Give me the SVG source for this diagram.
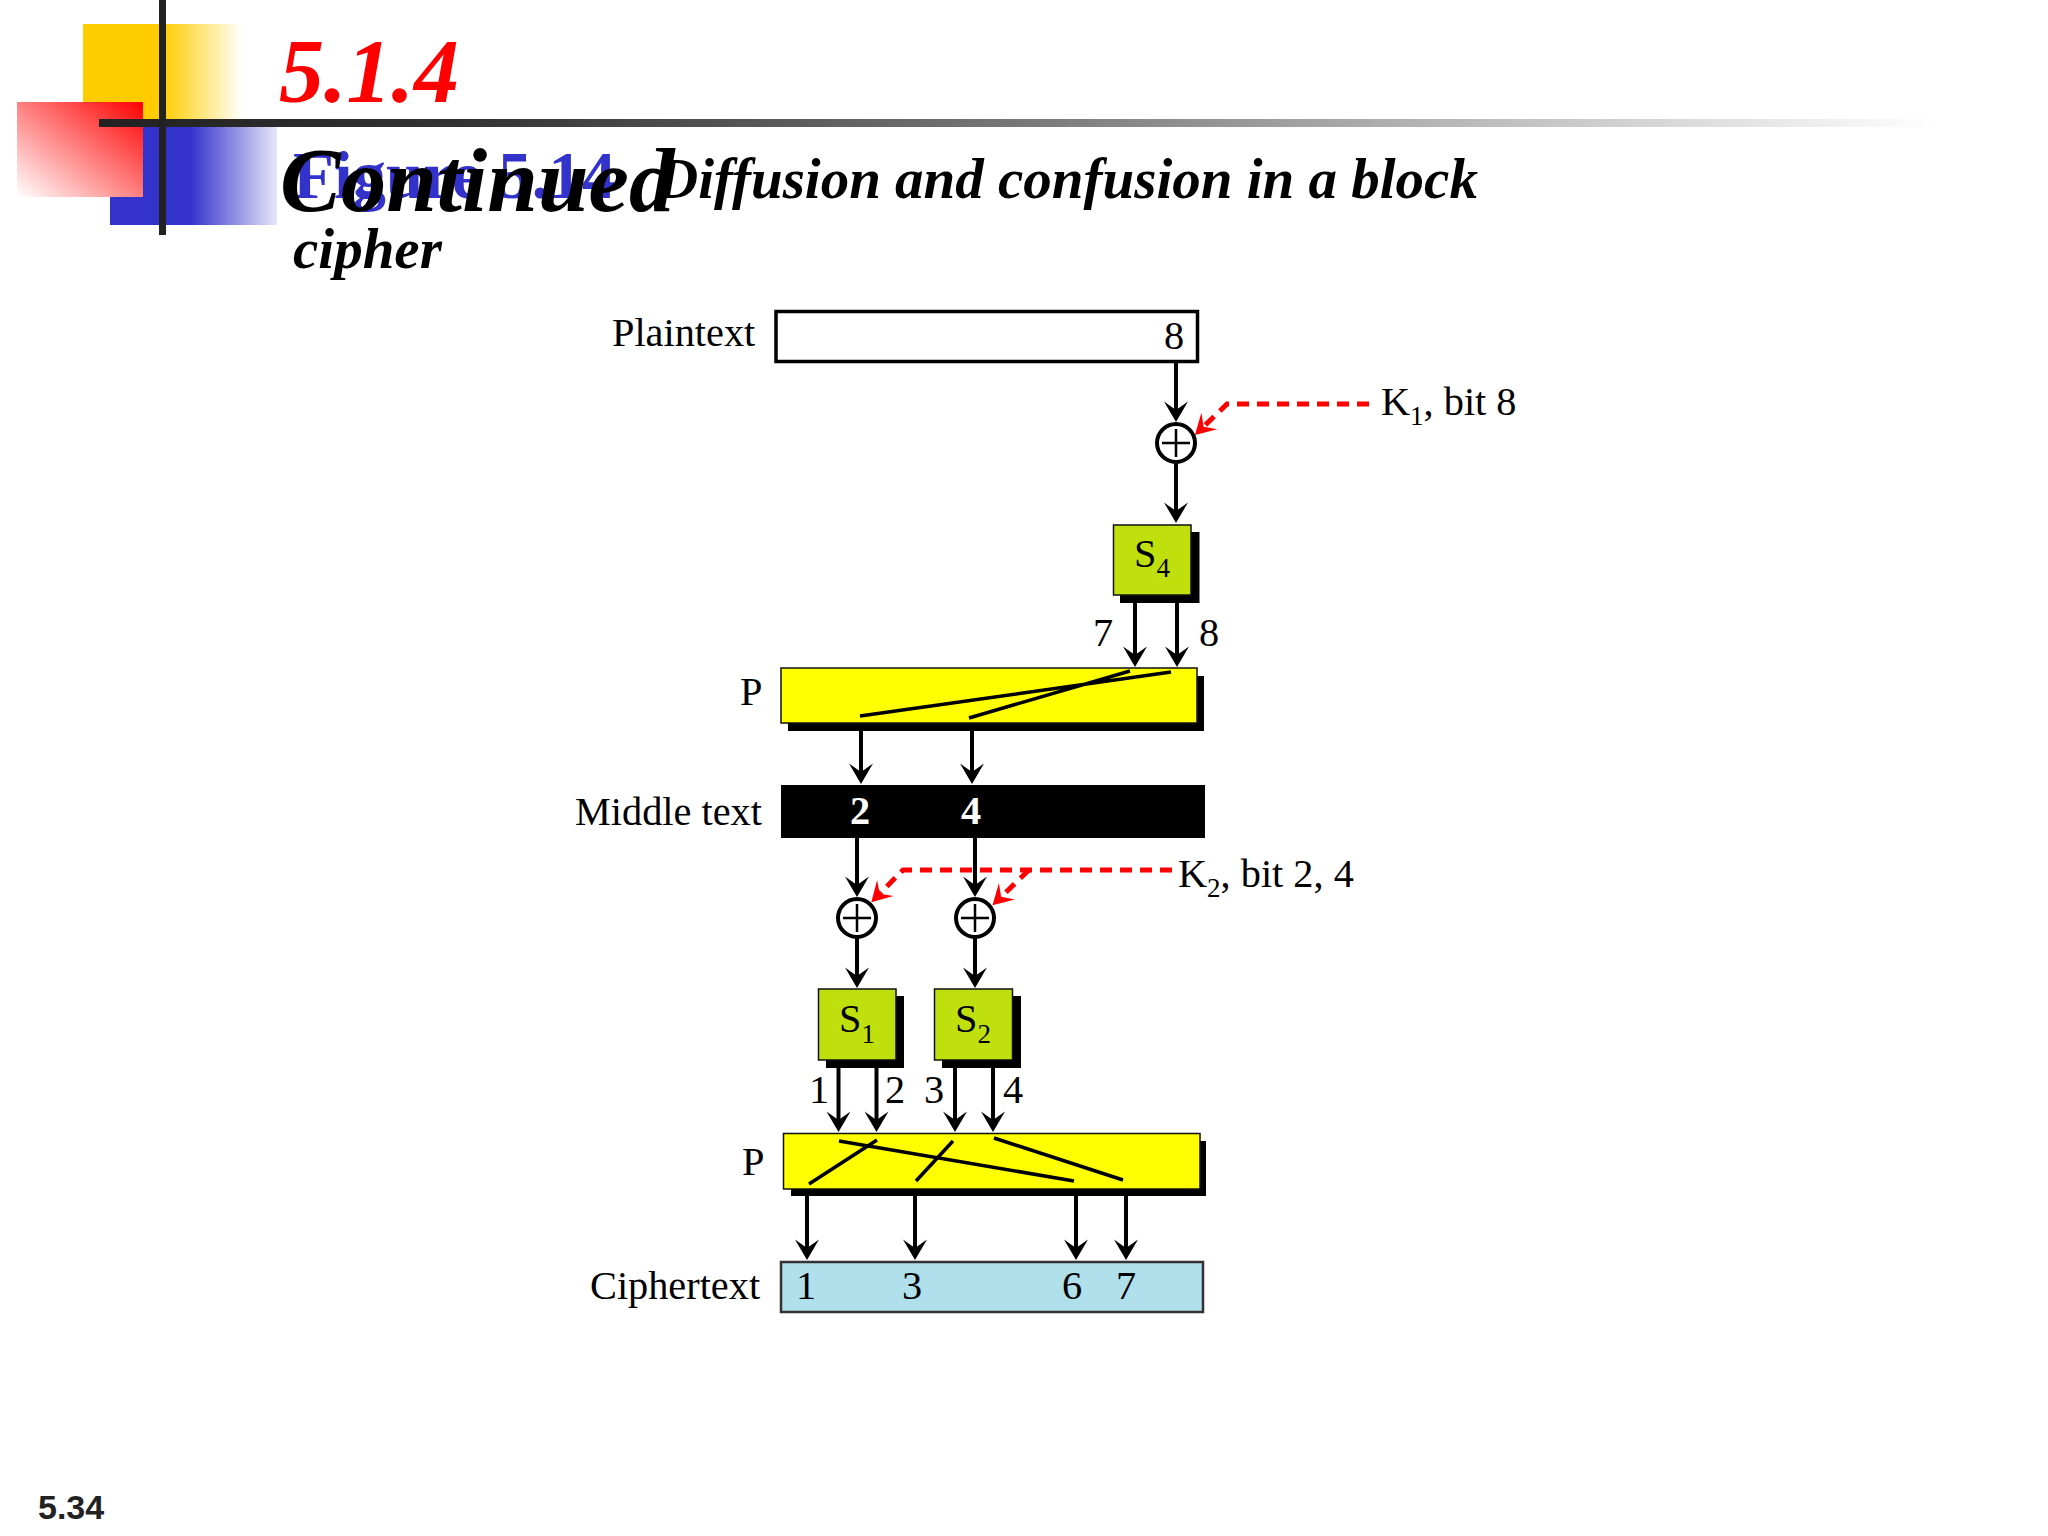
<svg xmlns="http://www.w3.org/2000/svg" width="2048" height="1536" viewBox="0 0 2048 1536">
<style>
.t{font-family:"Liberation Serif","Times New Roman",serif;font-size:40.300px;fill:#000}
.b{stroke:#111;stroke-width:1.5}
.s{fill:#000}
.g{fill:#bfe00c}
.y{fill:#ff0}
.sub{font-size:27px}
.h{font-family:"Liberation Serif","Times New Roman",serif;font-weight:bold;font-style:italic}
.a{fill:none;stroke:#000;stroke-width:4;marker-end:url(#ah)}
.r{fill:none;stroke:#f00;stroke-width:5;stroke-dasharray:12 8;marker-end:url(#rh)}
.w{fill:none;stroke:#000;stroke-width:3.500}
.x{fill:#fff;stroke:#000;stroke-width:4}
.c{fill:none;stroke:#000;stroke-width:2.500}
</style>
<defs>
<marker id="ah" markerUnits="userSpaceOnUse" viewBox="-24 -13 26 26" markerWidth="26" markerHeight="26" refX="-6" refY="0" orient="auto"><path d="M0 0L-20.500-12L-12 0L-20.500 12Z" fill="#000"/></marker>
<marker id="rh" markerUnits="userSpaceOnUse" viewBox="-24 -13 26 26" markerWidth="26" markerHeight="26" refX="-6" refY="0" orient="auto"><path d="M0 0L-20-11.500L-12 0L-20 11.500Z" fill="#f00"/></marker>
<linearGradient id="gy" x1="0" x2="1" y1="0" y2="0"><stop offset="0.5" stop-color="#fc0"/><stop offset="1" stop-color="#fc0" stop-opacity="0"/></linearGradient>
<linearGradient id="gb" x1="0" x2="1" y1="0" y2="0"><stop offset="0.48" stop-color="#33c"/><stop offset="1" stop-color="#33c" stop-opacity="0.12"/></linearGradient>
<linearGradient id="gr" x1="1" x2="0" y1="0" y2="1"><stop offset="0" stop-color="#f00"/><stop offset="1" stop-color="#fff"/></linearGradient>
<linearGradient id="gl" x1="0" x2="1" y1="0" y2="0"><stop offset="0" stop-color="#222"/><stop offset="0.2" stop-color="#333"/><stop offset="0.5" stop-color="#777"/><stop offset="1" stop-color="#fff"/></linearGradient>
</defs>
<g id="decoration">
<rect x="83" y="24" width="160" height="100" fill="url(#gy)"/>
<rect x="110" y="119" width="167" height="106" fill="url(#gb)"/>
<rect x="17" y="102" width="126" height="95" fill="url(#gr)"/>
<rect x="99" y="119" width="1835" height="8" fill="url(#gl)"/>
<rect x="159" y="0" width="7" height="235" fill="#222"/>
</g>
<g id="title">
<text class="h" x="279" y="102" font-size="90" fill="#f00">5.1.4</text>
<text x="293" y="198" font-size="67" font-family="Liberation Serif,Times New Roman,serif" font-weight="bold" fill="#33c">Figure 5.14</text>
<text class="h" x="280" y="211" font-size="91" fill="#000">Continued</text>
<text class="h" x="657" y="198" font-size="57" fill="#000">Diffusion and confusion in a block</text>
<text class="h" x="293" y="268" font-size="57" fill="#000">cipher</text>
</g>
<g id="plaintext">
<rect x="776" y="311.500" width="421.500" height="50" fill="#fff" stroke="#000" stroke-width="3.500"/>
<text class="t" x="612" y="346">Plaintext</text>
<text class="t" x="1174" y="349" text-anchor="middle">8</text>
</g>
<g id="xor1"><ellipse class="x" cx="1176" cy="443" rx="19" ry="19"/><path class="c" d="M1176 429V457M1162 443H1190"/></g>
<g id="s4">
<rect class="s" x="1120" y="532" width="79.500" height="71"/>
<rect class="g b" x="1113.500" y="525" width="77.500" height="70"/>
<text class="t" x="1134" y="567">S<tspan class="sub" dy="10">4</tspan></text>
</g>
<g id="p1">
<rect class="s" x="788" y="676" width="416" height="55"/>
<rect class="y b" x="781" y="668" width="416" height="55"/>
<path class="w" d="M1130 671L969 718M1171 672L860 716"/>
<text class="t" x="740" y="705">P</text>
</g>
<g id="middle">
<rect x="781" y="785" width="424" height="53" fill="#000"/>
<text class="t" x="575" y="825">Middle text</text>
<text class="t" x="860" y="824" text-anchor="middle" style="fill:#fff;font-weight:bold">2</text>
<text class="t" x="971" y="824" text-anchor="middle" style="fill:#fff;font-weight:bold">4</text>
</g>
<g id="xor2"><ellipse class="x" cx="857" cy="918" rx="19" ry="19"/><path class="c" d="M857 904V932M843 918H871"/></g>
<g id="xor3"><ellipse class="x" cx="975" cy="918" rx="19" ry="19"/><path class="c" d="M975 904V932M961 918H989"/></g>
<g id="s1">
<rect class="s" x="826" y="996" width="78" height="72"/>
<rect class="g b" x="818.500" y="989" width="77.500" height="71"/>
<text class="t" x="839" y="1032">S<tspan class="sub" dy="11">1</tspan></text>
</g>
<g id="s2">
<rect class="s" x="942" y="996" width="79" height="72"/>
<rect class="g b" x="934.500" y="989" width="78" height="71"/>
<text class="t" x="955" y="1032">S<tspan class="sub" dy="11">2</tspan></text>
</g>
<g id="p2">
<rect class="s" x="791" y="1141" width="415" height="55"/>
<rect class="y b" x="783.500" y="1133.500" width="416.500" height="55.500"/>
<path class="w" d="M839 1141L1074 1181M877 1140L809 1184M953 1141L916 1181M994 1138L1123 1180"/>
<text class="t" x="742" y="1175">P</text>
</g>
<g id="ciphertext">
<rect x="781" y="1262" width="422" height="50" fill="#b0e0eb" stroke="#333" stroke-width="2.500"/>
<text class="t" x="590" y="1299">Ciphertext</text>
<text class="t" x="806" y="1299" text-anchor="middle">1</text>
<text class="t" x="912" y="1299" text-anchor="middle">3</text>
<text class="t" x="1072" y="1299" text-anchor="middle">6</text>
<text class="t" x="1126" y="1299" text-anchor="middle">7</text>
</g>
<g id="connectors">
<path class="a" d="M1176 362V416"/>
<path class="a" d="M1176 463V517"/>
<path class="a" d="M1135 603V661"/>
<path class="a" d="M1177 603V661"/>
<path class="a" d="M861 731V778"/>
<path class="a" d="M972 731V778"/>
<path class="a" d="M857 838V891"/>
<path class="a" d="M975 838V891"/>
<path class="a" d="M857 938V982"/>
<path class="a" d="M975 938V982"/>
<path class="a" d="M838.500 1068V1126"/>
<path class="a" d="M876.500 1068V1126"/>
<path class="a" d="M955 1068V1126"/>
<path class="a" d="M993 1068V1126"/>
<path class="a" d="M807 1196V1254"/>
<path class="a" d="M915 1196V1254"/>
<path class="a" d="M1076 1196V1254"/>
<path class="a" d="M1126 1196V1254"/>
<path class="r" d="M1369 404H1227L1199.300 430.800"/>
<path class="r" d="M1172 870H903L875.500 898"/>
<path class="r" d="M1029 870L996.800 901"/>
</g>
<g id="labels">
<text class="t" x="1381" y="415">K<tspan class="sub" dy="10">1</tspan><tspan dy="-10">, bit 8</tspan></text>
<text class="t" x="1178" y="887">K<tspan class="sub" dy="10">2</tspan><tspan dy="-10">, bit 2, 4</tspan></text>
<text class="t" x="1103" y="646" text-anchor="middle">7</text>
<text class="t" x="1209" y="646" text-anchor="middle">8</text>
<text class="t" x="819" y="1103" text-anchor="middle">1</text>
<text class="t" x="895" y="1103" text-anchor="middle">2</text>
<text class="t" x="934" y="1103" text-anchor="middle">3</text>
<text class="t" x="1013" y="1103" text-anchor="middle">4</text>
<text x="38" y="1519" font-family="Liberation Sans,Arial,sans-serif" font-weight="bold" font-size="34" fill="#222">5.34</text>
</g>
</svg>
